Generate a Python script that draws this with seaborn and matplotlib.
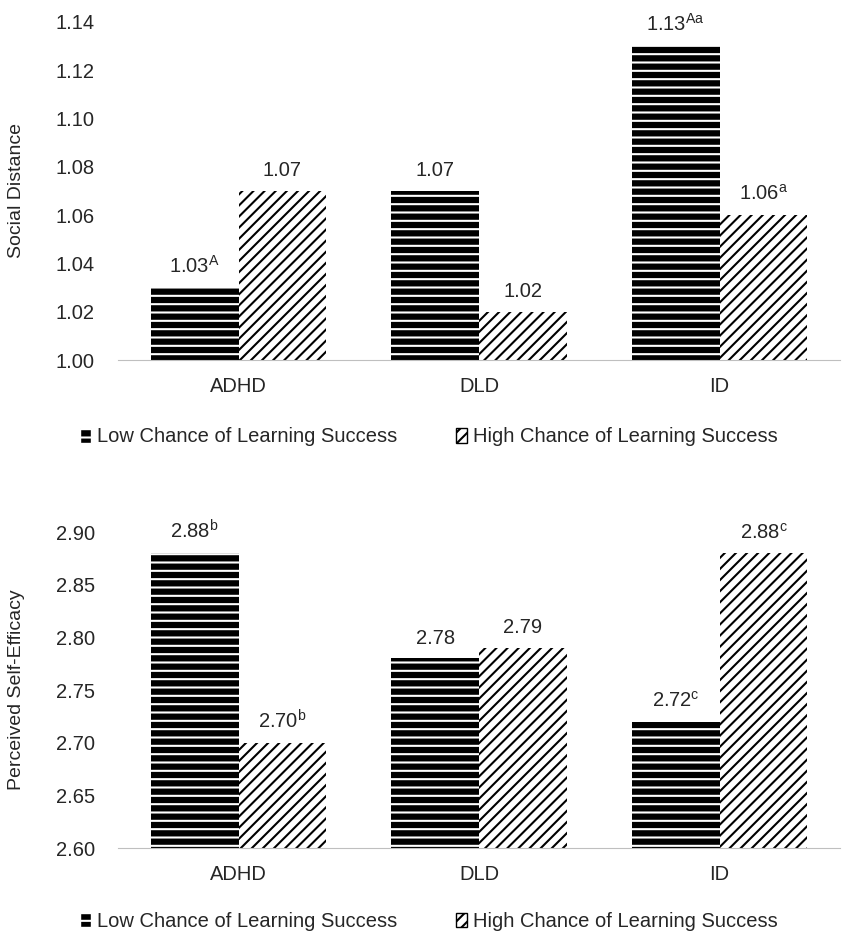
import seaborn as sns
import matplotlib.pyplot as plt
import pandas as pd
from matplotlib.patches import Patch

sns.set_style("white")
plt.rcParams["font.family"] = ["Liberation Sans", "DejaVu Sans"]
plt.rcParams["mathtext.fontset"] = "custom"
plt.rcParams["mathtext.rm"] = "Liberation Sans"
plt.rcParams["hatch.linewidth"] = 1.5

# 数据
groups = ["ADHD", "DLD", "ID"]
conditions = ["Low Chance of Learning Success", "High Chance of Learning Success"]
sd_low = [1.03, 1.07, 1.13]
sd_high = [1.07, 1.02, 1.06]
se_low = [2.88, 2.78, 2.72]
se_high = [2.70, 2.79, 2.88]
sd_sup_low = ["A", "", "Aa"]
sd_sup_high = ["", "", "a"]
se_sup_low = ["b", "", "c"]
se_sup_high = ["b", "", "c"]

FS = 14.5
LOW_HATCH = "--"
HIGH_HATCH = "///"

def make_df(low, high):
    return pd.DataFrame({
        "group": groups * 2,
        "cond": [conditions[0]] * 3 + [conditions[1]] * 3,
        "value": low + high,
    })

def fmt(v, s):
    if s:
        return "%.2f$^{\\mathrm{%s}}$" % (v, s)
    return "%.2f" % v

fig = plt.figure(figsize=(8.51, 9.39), dpi=100)
ax1 = fig.add_axes([0.139, 0.6166, 0.848, 0.36])
ax2 = fig.add_axes([0.139, 0.0969, 0.848, 0.3365])

def draw(ax, low, high, sup_low, sup_high, ylim, ticks, ylabel):
    df = make_df(low, high)
    sns.barplot(data=df, x="group", y="value", hue="cond", ax=ax,
                width=0.73, legend=False, errorbar=None)
    ax.set_ylim(*ylim)
    bars = ax.patches
    for i, p in enumerate(bars):
        if i < 3:
            p.set_facecolor("black")
            p.set_edgecolor("white")
            p.set_hatch(LOW_HATCH)
        else:
            p.set_facecolor("white")
            p.set_edgecolor("black")
            p.set_hatch(HIGH_HATCH)
        p.set_linewidth(0)
    labels = [fmt(v, s) for v, s in zip(low, sup_low)] + \
             [fmt(v, s) for v, s in zip(high, sup_high)]
    rng = ylim[1] - ylim[0]
    for p, lab in zip(bars, labels):
        ax.text(p.get_x() + p.get_width() / 2, p.get_height() + rng * 0.033, lab,
                ha="center", va="bottom", fontsize=FS)
    ax.set_yticks(ticks)
    ax.set_yticklabels(["%.2f" % t for t in ticks], fontsize=FS)
    ax.tick_params(axis="x", labelsize=FS, length=0, pad=12)
    ax.tick_params(axis="y", length=0, pad=17)
    ax.set_xlabel("")
    ax.set_ylabel(ylabel, fontsize=14, labelpad=22)
    sns.despine(ax=ax, left=True, top=True, right=True)
    ax.spines["bottom"].set_color("#bfbfbf")
    ax.set_xlim(-0.5, 2.5)
    handles = [Patch(facecolor="black", edgecolor="white", hatch=LOW_HATCH, label=conditions[0]),
               Patch(facecolor="white", edgecolor="black", hatch=HIGH_HATCH, label=conditions[1])]
    ax.legend(handles=handles, loc="upper center", bbox_to_anchor=(0.43, -0.145),
              ncol=2, frameon=False, fontsize=FS, handlelength=0.55, handleheight=0.75,
              handletextpad=0.3, columnspacing=2.9)

draw(ax1, sd_low, sd_high, sd_sup_low, sd_sup_high, (1.00, 1.14),
     [1.00 + 0.02 * i for i in range(8)], "Social Distance")
draw(ax2, se_low, se_high, se_sup_low, se_sup_high, (2.60, 2.90),
     [2.60 + 0.05 * i for i in range(7)], "Perceived Self-Efficacy")

plt.savefig("out.png", dpi=100)
plt.close()
